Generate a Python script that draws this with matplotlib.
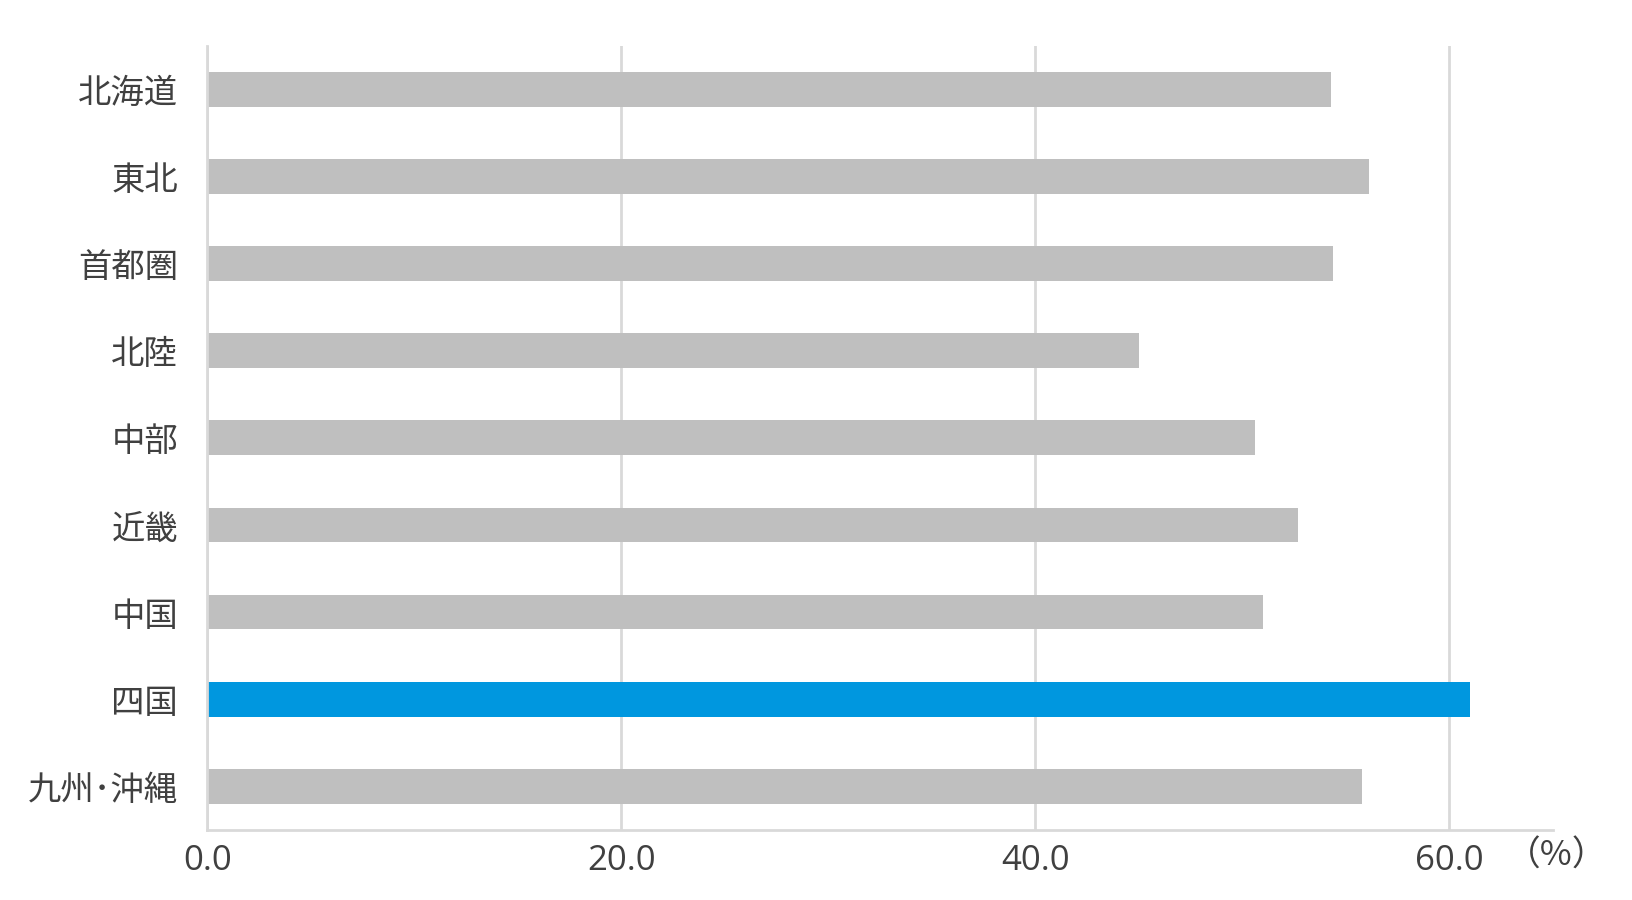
import matplotlib
matplotlib.use("Agg")
import matplotlib.pyplot as plt

plt.rcParams['font.family'] = ['Noto Sans CJK JP', 'DejaVu Sans']

regions = ["北海道", "東北", "首都圏", "北陸", "中部", "近畿", "中国", "四国", "九州･沖縄"]
values = [54.3, 56.1, 54.4, 45.0, 50.6, 52.7, 51.0, 61.0, 55.8]
highlight = "四国"
xticks = [0, 20, 40, 60]
xtick_labels = ["0.0", "20.0", "40.0", "60.0"]
unit_label = "（%）"

gray = "#BFBFBF"
blue = "#0097DF"
grid_c = "#D9D9D9"
text_c = "#404040"

fig = plt.figure(figsize=(16.32, 9.0), dpi=100)
ax = fig.add_axes([0.127, 0.078, 0.8245, 0.871])

ypos = list(range(len(regions)))
colors = [blue if r == highlight else gray for r in regions]
ax.barh(ypos, values, height=0.4, color=colors, zorder=3)

ax.set_xlim(0, 65)
ax.set_ylim(len(regions) - 0.5, -0.5)
ax.set_yticks(ypos)
ax.set_yticklabels(regions, fontsize=24, color=text_c)
ax.set_xticks(xticks)
ax.set_xticklabels(xtick_labels, fontsize=25, color=text_c,
                   family=['Open Sans', 'DejaVu Sans'])
ax.tick_params(axis='y', length=0, pad=21)
ax.tick_params(axis='x', length=0, pad=10)

ax.grid(axis='x', color=grid_c, linewidth=2, zorder=0)
ax.grid(axis='y', visible=False)
for s in ['top', 'right']:
    ax.spines[s].set_visible(False)
for s in ['left', 'bottom']:
    ax.spines[s].set_color(grid_c)
    ax.spines[s].set_linewidth(2)
    ax.spines[s].set_zorder(4)

fig.text(1557 / 1632, 1 - 856 / 900, unit_label, fontsize=25, color=text_c,
         ha='center', va='center')

fig.savefig("out.png", dpi=100)
